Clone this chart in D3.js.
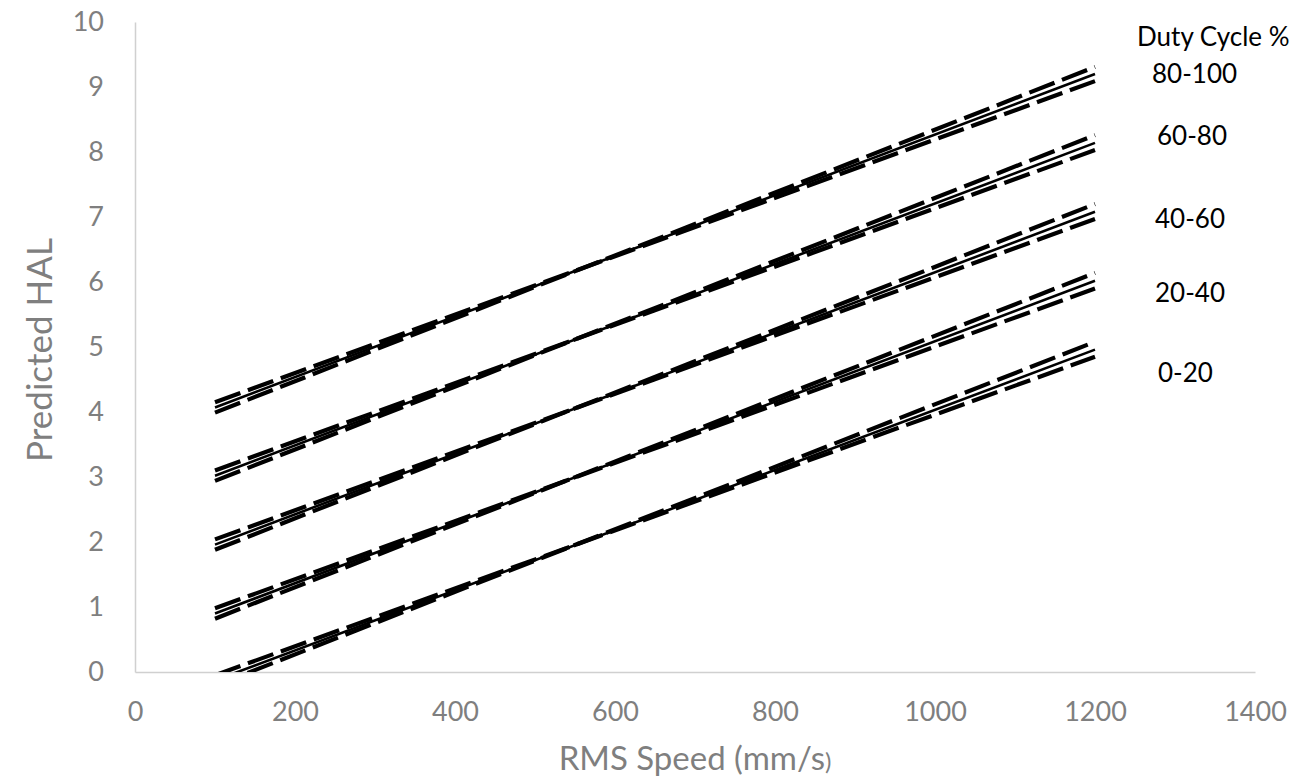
<!DOCTYPE html>
<html>
<head>
<meta charset="utf-8">
<script src="https://cdn.jsdelivr.net/npm/d3@7"></script>
<style>
  html, body { margin: 0; padding: 0; background: #fff; }
  svg { display: block; }
  text { font-family: Lato, "Open Sans", sans-serif; }
</style>
</head>
<body>
<script>
// ---- data ----
const groups = ["80-100", "60-80", "40-60", "20-40", "0-20"];
const speedRange = [100, 1200];
const fitStart = [4.07, 3.02, 1.96, 0.90, -0.13];
const fitEnd   = [9.20, 8.14, 7.08, 6.02, 4.96];
const boundAStart = [4.15, 3.10, 2.04, 0.98, -0.05];
const boundAEnd   = [9.09, 8.03, 6.97, 5.90, 4.85];
const boundBStart = [3.99, 2.94, 1.88, 0.82, -0.21];
const boundBEnd   = [9.31, 8.26, 7.20, 6.14, 5.08];
const xTicks = [0, 200, 400, 600, 800, 1000, 1200, 1400];
const yTicks = [0, 1, 2, 3, 4, 5, 6, 7, 8, 9, 10];
const legendTitle = "Duty Cycle %";

// ---- layout ----
const W = 1309, H = 783;
const plot = { left: 135, right: 1255, top: 22, bottom: 672 };
const labelBaselines = [83, 145, 228, 302, 382];
const labelLefts = [1152, 1157, 1155, 1155, 1158];

const svg = d3.select("body").append("svg").attr("width", W).attr("height", H);

const x = d3.scaleLinear().domain([0, 1400]).range([plot.left, plot.right]);
const y = d3.scaleLinear().domain([0, 10]).range([plot.bottom, plot.top]);

svg.append("clipPath").attr("id", "clip")
  .append("rect").attr("x", plot.left).attr("y", plot.top)
  .attr("width", plot.right - plot.left).attr("height", plot.bottom - plot.top);

// axes
const xAxis = svg.append("g").attr("transform", `translate(0,${plot.bottom})`)
  .call(d3.axisBottom(x).tickValues(xTicks).tickSize(0).tickPadding(30).tickFormat(d3.format("d")));
const yAxis = svg.append("g").attr("transform", `translate(${plot.left},0)`)
  .call(d3.axisLeft(y).tickValues(yTicks).tickSize(0).tickPadding(31).tickFormat(d3.format("d")));
[xAxis, yAxis].forEach(g => {
  g.select(".domain").attr("stroke", "#d0d0d0").attr("stroke-width", 1.5);
  g.selectAll("text").attr("fill", "#7f7f7f").attr("font-size", 27)
    .attr("font-family", "Lato, 'Open Sans', sans-serif");
});
xAxis.selectAll("text").attr("dy", "0.71em").attr("y", 30);

// lines
const line = d3.line().x(d => x(d[0])).y(d => y(d[1]));
const linesG = svg.append("g").attr("clip-path", "url(#clip)");
groups.forEach((g, i) => {
  const bA = [[speedRange[0], boundAStart[i]], [speedRange[1], boundAEnd[i]]];
  const bB = [[speedRange[0], boundBStart[i]], [speedRange[1], boundBEnd[i]]];
  const fit = [[speedRange[0], fitStart[i]], [speedRange[1], fitEnd[i]]];
  [bA, bB].forEach(d => {
    linesG.append("path").datum(d).attr("d", line)
      .attr("fill", "none").attr("stroke", "#000")
      .attr("stroke-width", 4.2).attr("stroke-dasharray", "27,8");
  });
  linesG.append("path").datum(fit).attr("d", line)
    .attr("fill", "none").attr("stroke", "#000").attr("stroke-width", 2.6);
});

// legend labels
svg.append("text").attr("x", 1137).attr("y", 46).attr("font-size", 26)
  .attr("fill", "#000").text(legendTitle);
groups.forEach((g, i) => {
  svg.append("text").attr("x", labelLefts[i]).attr("y", labelBaselines[i])
    .attr("font-size", 26).attr("fill", "#000").text(g);
});

// axis titles
svg.append("text").attr("transform", `translate(52,${(plot.top + plot.bottom) / 2 + 3}) rotate(-90)`)
  .attr("text-anchor", "middle").attr("font-size", 35).attr("fill", "#7f7f7f")
  .text("Predicted HAL");
const xt = svg.append("text").attr("x", 695).attr("y", 770)
  .attr("text-anchor", "middle").attr("font-size", 33).attr("fill", "#7f7f7f");
xt.append("tspan").text("RMS Speed (mm/s");
xt.append("tspan").attr("font-size", 24).text(")");
</script>
</body>
</html>
